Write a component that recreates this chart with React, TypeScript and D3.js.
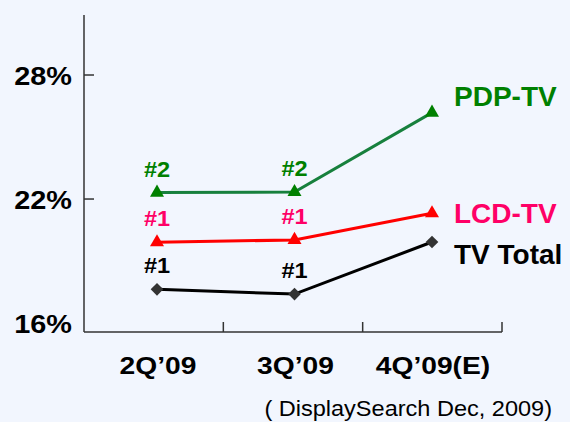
import React from "react";
import * as d3 from "d3";

// Quarterly market share by product line
const categories = ["2Q’09", "3Q’09", "4Q’09(E)"];
const pdpShare = [22.31, 22.34, 26.18];
const lcdShare = [19.91, 20.02, 21.31];
const totalShare = [17.63, 17.4, 19.92];
const pdpRank = ["#2", "#2", ""];
const lcdRank = ["#1", "#1", ""];
const totalRank = ["#1", "#1", ""];
const yTicks = [16, 22, 28];
const seriesNames = ["PDP-TV", "LCD-TV", "TV Total"];
const sourceNote = "( DisplaySearch Dec, 2009)";

const W = 570;
const H = 422;
const FONT = "'Liberation Sans', Arial, Helvetica, sans-serif";

type Series = {
  name: string;
  values: number[];
  ranks: string[];
  line: string;
  marker: string;
  text: string;
  symbol: "triangle" | "diamond";
  nameDy: number;
};

const series: Series[] = [
  { name: seriesNames[0], values: pdpShare, ranks: pdpRank, line: "#17803d", marker: "#008000", text: "#008000", symbol: "triangle", nameDy: -7 },
  { name: seriesNames[1], values: lcdShare, ranks: lcdRank, line: "#ff0000", marker: "#ff0000", text: "#ff0066", symbol: "triangle", nameDy: 10 },
  { name: seriesNames[2], values: totalShare, ranks: totalRank, line: "#000000", marker: "#333333", text: "#000000", symbol: "diamond", nameDy: 22 },
];

export default function App() {
  const axisLeft = 84;
  const axisRight = 502;
  const axisTop = 15;
  const axisBottom = 332;

  const y = d3.scaleLinear().domain([15.567, 30.903]).range([axisBottom, axisTop]);
  const band = d3.scaleBand<string>().domain(categories).range([axisLeft, axisRight]);
  const xp = d3.scalePoint<string>().domain(categories).range([157, 432]);

  const line = d3
    .line<number>()
    .x((_, i) => xp(categories[i]) as number)
    .y((v) => y(v));

  const tri = d3.symbol().type(d3.symbolTriangle).size(85)();
  const dia = d3.symbol().type(d3.symbolSquare).size(80)();

  const bandEdges = categories.map((c) => (band(c) as number) + band.bandwidth());

  return (
    <svg width={W} height={H} style={{ position: "absolute", left: 0, top: 0 }} fontFamily={FONT}>
      <rect x={0} y={0} width={W} height={H} fill="#f2f6fe" />

      {/* axes */}
      <g stroke="#333" strokeWidth={1.5} fill="none">
        <line x1={axisLeft} y1={axisTop} x2={axisLeft} y2={axisBottom} />
        <line x1={axisLeft} y1={axisBottom} x2={axisRight} y2={axisBottom} />
        {yTicks
          .filter((t) => y(t) < axisBottom - 15)
          .map((t) => (
            <line key={t} x1={axisLeft} x2={axisLeft + 10} y1={y(t)} y2={y(t)} />
          ))}
        {bandEdges.map((bx, i) => (
          <line key={i} x1={bx} x2={bx} y1={axisBottom} y2={axisBottom - 10} />
        ))}
      </g>

      {/* y tick labels */}
      {yTicks.map((t) => (
        <text
          key={t}
          transform={`translate(72,${y(t) + 10}) scale(1.09,1)`}
          textAnchor="end"
          fontSize={26.5}
          fontWeight="bold"
          fill="#000"
        >
          {`${t}%`}
        </text>
      ))}

      {/* x category labels */}
      {categories.map((c) => (
        <text
          key={c}
          transform={`translate(${(xp(c) as number) + 1},374) scale(1.2,1)`}
          textAnchor="middle"
          fontSize={23.5}
          fontWeight="bold"
          fill="#000"
        >
          {c}
        </text>
      ))}

      {/* series lines, markers and rank labels */}
      {series.map((s) => (
        <g key={s.name}>
          <path d={line(s.values) as string} fill="none" stroke={s.line} strokeWidth={3} />
          {s.values.map((v, i) => {
            const px = xp(categories[i]) as number;
            const py = y(v);
            return (
              <path
                key={i}
                d={(s.symbol === "triangle" ? tri : dia) as string}
                transform={`translate(${px},${py})${s.symbol === "diamond" ? " rotate(45)" : ""}`}
                fill={s.marker}
              />
            );
          })}
          {s.ranks.map((r, i) =>
            r ? (
              <text
                key={i}
                transform={`translate(${xp(categories[i]) as number},${y(s.values[i]) - 16}) scale(1.07,1)`}
                textAnchor="middle"
                fontSize={22}
                fontWeight="bold"
                fill={s.text}
              >
                {r}
              </text>
            ) : null
          )}
          <text
            x={454}
            y={y(s.values[s.values.length - 1]) + s.nameDy}
            fontSize={28}
            fontWeight="bold"
            fill={s.text}
          >
            {s.name}
          </text>
        </g>
      ))}

      {/* source note */}
      <text transform="translate(552,416) scale(1.07,1)" textAnchor="end" fontSize={22} fill="#000">
        {sourceNote}
      </text>
    </svg>
  );
}
